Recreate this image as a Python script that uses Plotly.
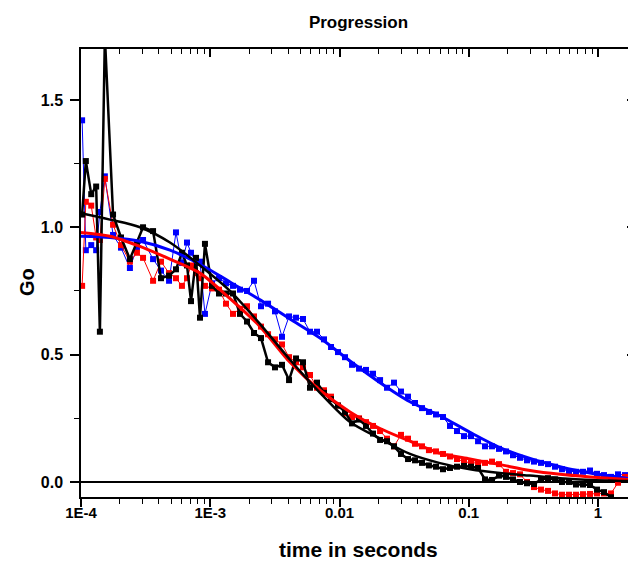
import plotly.graph_objects as go

# shared lag times (s)
t = [1.02e-4, 1.09e-4, 1.20e-4, 1.31e-4, 1.40e-4, 1.53e-4, 1.77e-4, 2.04e-4, 2.39e-4, 2.71e-4,
     3.02e-4, 3.61e-4, 4.16e-4, 4.80e-4, 5.43e-4, 6.04e-4, 6.61e-4, 7.10e-4, 7.76e-4, 8.33e-4, 9.10e-4,
     1.032e-3, 1.169e-3, 1.324e-3, 1.500e-3, 1.699e-3, 1.924e-3, 2.18e-3, 2.47e-3, 2.80e-3, 3.17e-3,
     3.59e-3, 4.07e-3, 4.61e-3, 5.22e-3, 5.91e-3, 6.70e-3, 7.59e-3, 8.60e-3, 9.74e-3,
     1.103e-2, 1.250e-2, 1.416e-2, 1.604e-2, 1.816e-2, 2.06e-2, 2.33e-2, 2.64e-2, 2.99e-2, 3.39e-2,
     3.84e-2, 4.35e-2, 4.92e-2, 5.58e-2, 6.32e-2, 7.16e-2, 8.11e-2, 9.19e-2,
     0.1041, 0.1180, 0.1336, 0.1514, 0.1714, 0.1942, 0.2200, 0.2492, 0.2823, 0.3198, 0.3623, 0.4104,
     0.4649, 0.5266, 0.5966, 0.6758, 0.7656, 0.8673, 0.9825, 1.113, 1.261, 1.428, 1.618, 1.833]

blue_g = [1.42, 0.91, 0.93, 0.91, 1.06, 1.20, 0.97, 0.92, 0.84, 0.92, 0.95, 0.875, 0.83, 0.79, 0.98, 0.86, 0.94, 0.90, 0.86, 0.865, 0.66,
          0.78, 0.80, 0.78, 0.77, 0.755, 0.75, 0.79, 0.69, 0.70, 0.67, 0.57, 0.65, 0.645, 0.64, 0.59, 0.59, 0.56, 0.53, 0.51,
          0.49, 0.46, 0.445, 0.44, 0.425, 0.40, 0.37, 0.39, 0.355, 0.335, 0.31, 0.29, 0.275, 0.265, 0.255, 0.22, 0.20, 0.18,
          0.18, 0.16, 0.14, 0.14, 0.13, 0.12, 0.105, 0.095, 0.085, 0.08, 0.075, 0.07, 0.06, 0.05, 0.042, 0.04, 0.04, 0.045,
          0.032, 0.027, 0.02, 0.03, 0.027, 0.045]

red_g = [0.77, 1.10, 1.085, 0.96, 0.95, 1.19, 1.01, 0.93, 0.865, 0.90, 0.88, 0.79, 0.865, 0.82, 0.80, 0.77, 0.80, 0.85, 0.82, 0.80, 0.77,
         0.76, 0.755, 0.70, 0.66, 0.68, 0.69, 0.65, 0.61, 0.58, 0.56, 0.54, 0.49, 0.47, 0.45, 0.42, 0.37, 0.36, 0.335, 0.30,
         0.27, 0.255, 0.25, 0.235, 0.22, 0.20, 0.17, 0.14, 0.185, 0.17, 0.15, 0.14, 0.125, 0.12, 0.11, 0.10, 0.09, 0.08,
         0.075, 0.075, 0.075, 0.08, 0.07, 0.04, 0.035, 0.03, 0.0, -0.02, -0.03, -0.035, -0.045, -0.05, -0.05, -0.05, -0.048, -0.047,
         -0.045, -0.045, -0.045, -0.003, 0.02, 0.035]

black_g = [1.05, 1.26, 1.13, 1.16, 0.59, 1.75, 1.05, 0.96, 0.875, 0.94, 1.0, 0.985, 0.80, 0.81, 0.835, 0.90, 0.85, 0.71, 0.88, 0.645, 0.935,
           0.77, 0.74, 0.74, 0.74, 0.66, 0.63, 0.585, 0.565, 0.47, 0.45, 0.46, 0.40, 0.485, 0.47, 0.37, 0.39, 0.35, 0.325, 0.30,
           0.275, 0.23, 0.245, 0.22, 0.19, 0.165, 0.16, 0.14, 0.11, 0.09, 0.085, 0.075, 0.065, 0.06, 0.05, 0.055, 0.06, 0.063,
           0.06, 0.055, 0.01, 0.008, 0.025, 0.02, 0.01, 0.0, -0.005, -0.008, 0.01, 0.015, 0.01, 0.0, 0.0, -0.01, -0.01, -0.012,
           -0.03, -0.04, -0.06, None, None, None]

# fitted curves
t_fit = [1.0e-4, 1.676e-4, 2.86e-4, 4.88e-4, 8.33e-4, 1.422e-3, 2.43e-3, 4.14e-3, 7.07e-3, 1.206e-2,
         2.06e-2, 3.51e-2, 5.99e-2, 0.1023, 0.1746, 0.298, 0.508, 0.867, 1.97]
blue_fit = [0.965, 0.96, 0.945, 0.91, 0.855, 0.785, 0.715, 0.64, 0.565, 0.475, 0.39, 0.315, 0.26, 0.195, 0.135, 0.092, 0.06, 0.035, 0.01]
red_fit = [0.98, 0.965, 0.925, 0.875, 0.82, 0.72, 0.61, 0.47, 0.36, 0.275, 0.21, 0.16, 0.113, 0.09, 0.068, 0.045, 0.03, 0.02, 0.008]
black_fit = [1.055, 1.03, 1.0, 0.94, 0.85, 0.75, 0.62, 0.48, 0.35, 0.235, 0.17, 0.11, 0.074, 0.05, 0.035, 0.025, 0.015, 0.008, 0.003]

x_tickvals = [1e-4, 1e-3, 1e-2, 1e-1, 1]
x_ticktext = ["1E-4", "1E-3", "0.01", "0.1", "1"]
y_tickvals = [0.0, 0.5, 1.0, 1.5]

FONT = "Liberation Sans, Arial, sans-serif"
BLUE = "#0000FF"
RED = "#FF0000"
BLACK = "#000000"

fig = go.Figure()

for g, col, lw in [(blue_g, BLUE, 1), (red_g, RED, 1), (black_g, BLACK, 2.5)]:
    fig.add_trace(go.Scatter(x=t, y=g, mode="lines+markers",
                             line=dict(color=col, width=lw),
                             marker=dict(symbol="square", size=6, color=col),
                             showlegend=False, connectgaps=False))

for g, col, lw in [(blue_fit, BLUE, 3), (red_fit, RED, 3), (black_fit, BLACK, 2.5)]:
    fig.add_trace(go.Scatter(x=t_fit, y=g, mode="lines",
                             line=dict(color=col, width=lw, shape="spline", smoothing=0.8),
                             showlegend=False))

# transparent copy on the mirror axes so the top/right frame (inward ticks) is drawn
fig.add_trace(go.Scatter(x=t_fit, y=blue_fit, xaxis="x2", yaxis="y2", mode="lines",
                         line=dict(width=0), opacity=0, hoverinfo="skip", showlegend=False))

xr = [-4, 0.294]
yr = [-0.059, 1.70]

# page body adds an 8px offset; margins compensate so the plot sits at x 81..636, y 49..497
ML, MT, PW, PH = 73, 41, 555, 448
W, H = 636, 563

fig.update_layout(
    width=W, height=H,
    margin=dict(l=ML, r=W - ML - PW, t=MT, b=H - MT - PH),
    paper_bgcolor="white", plot_bgcolor="white",
    font=dict(family=FONT, color="black"),
    title=dict(text="<b>Progression</b>", x=0.5, xref="paper", xanchor="center",
               y=1 - 14 / H, yref="container", yanchor="middle",
               font=dict(size=17, family=FONT, color="black")),
    xaxis=dict(type="log", range=xr, showgrid=False, zeroline=False,
               showline=True, linecolor="black", linewidth=1.5,
               ticks="outside", ticklen=8, tickwidth=1.5, tickcolor="black",
               tickvals=x_tickvals, ticktext=x_ticktext, ticklabelstandoff=-7,
               tickfont=dict(size=15, family=FONT, color="black", weight="bold"),
               minor=dict(ticks="outside", ticklen=5, tickwidth=1.2, tickcolor="black", dtick="D1", showgrid=False),
               automargin=False),
    xaxis2=dict(type="log", range=xr, overlaying="x", side="top", anchor="y",
                showgrid=False, zeroline=False, showline=True, linecolor="black", linewidth=1.5,
                ticks="inside", ticklen=8, tickwidth=1.5, tickcolor="black",
                tickvals=x_tickvals, showticklabels=False,
                minor=dict(ticks="inside", ticklen=5, tickwidth=1.2, tickcolor="black", dtick="D1", showgrid=False),
                automargin=False),
    yaxis=dict(range=yr, showgrid=False,
               zeroline=True, zerolinecolor="black", zerolinewidth=1.5,
               showline=True, linecolor="black", linewidth=1.5,
               ticks="outside", ticklen=9, tickwidth=1.5, tickcolor="black",
               tickvals=y_tickvals, tickformat=".1f", ticklabelstandoff=4,
               tickfont=dict(size=16, family=FONT, color="black", weight="bold"),
               minor=dict(ticks="outside", ticklen=5, tickwidth=1.2, tickcolor="black", dtick=0.25, showgrid=False),
               automargin=False),
    yaxis2=dict(range=yr, overlaying="y", side="right", anchor="x",
                showgrid=False, zeroline=False, showline=True, linecolor="black", linewidth=1.5,
                ticks="inside", ticklen=9, tickwidth=1.5, tickcolor="black",
                tickvals=y_tickvals, showticklabels=False,
                minor=dict(ticks="inside", ticklen=5, tickwidth=1.2, tickcolor="black", dtick=0.25, showgrid=False),
                automargin=False),
    annotations=[
        dict(text="<b>time in seconds</b>", xref="paper", yref="paper", x=0.5, y=-52 / PH,
             xanchor="center", yanchor="middle", showarrow=False,
             font=dict(size=21, family=FONT, color="black")),
        dict(text="<b>Go</b>", xref="paper", yref="paper", x=-54 / PW, y=0.48,
             xanchor="center", yanchor="middle", showarrow=False, textangle=-90,
             font=dict(size=20, family=FONT, color="black")),
    ],
)

fig.write_html("out.html")
